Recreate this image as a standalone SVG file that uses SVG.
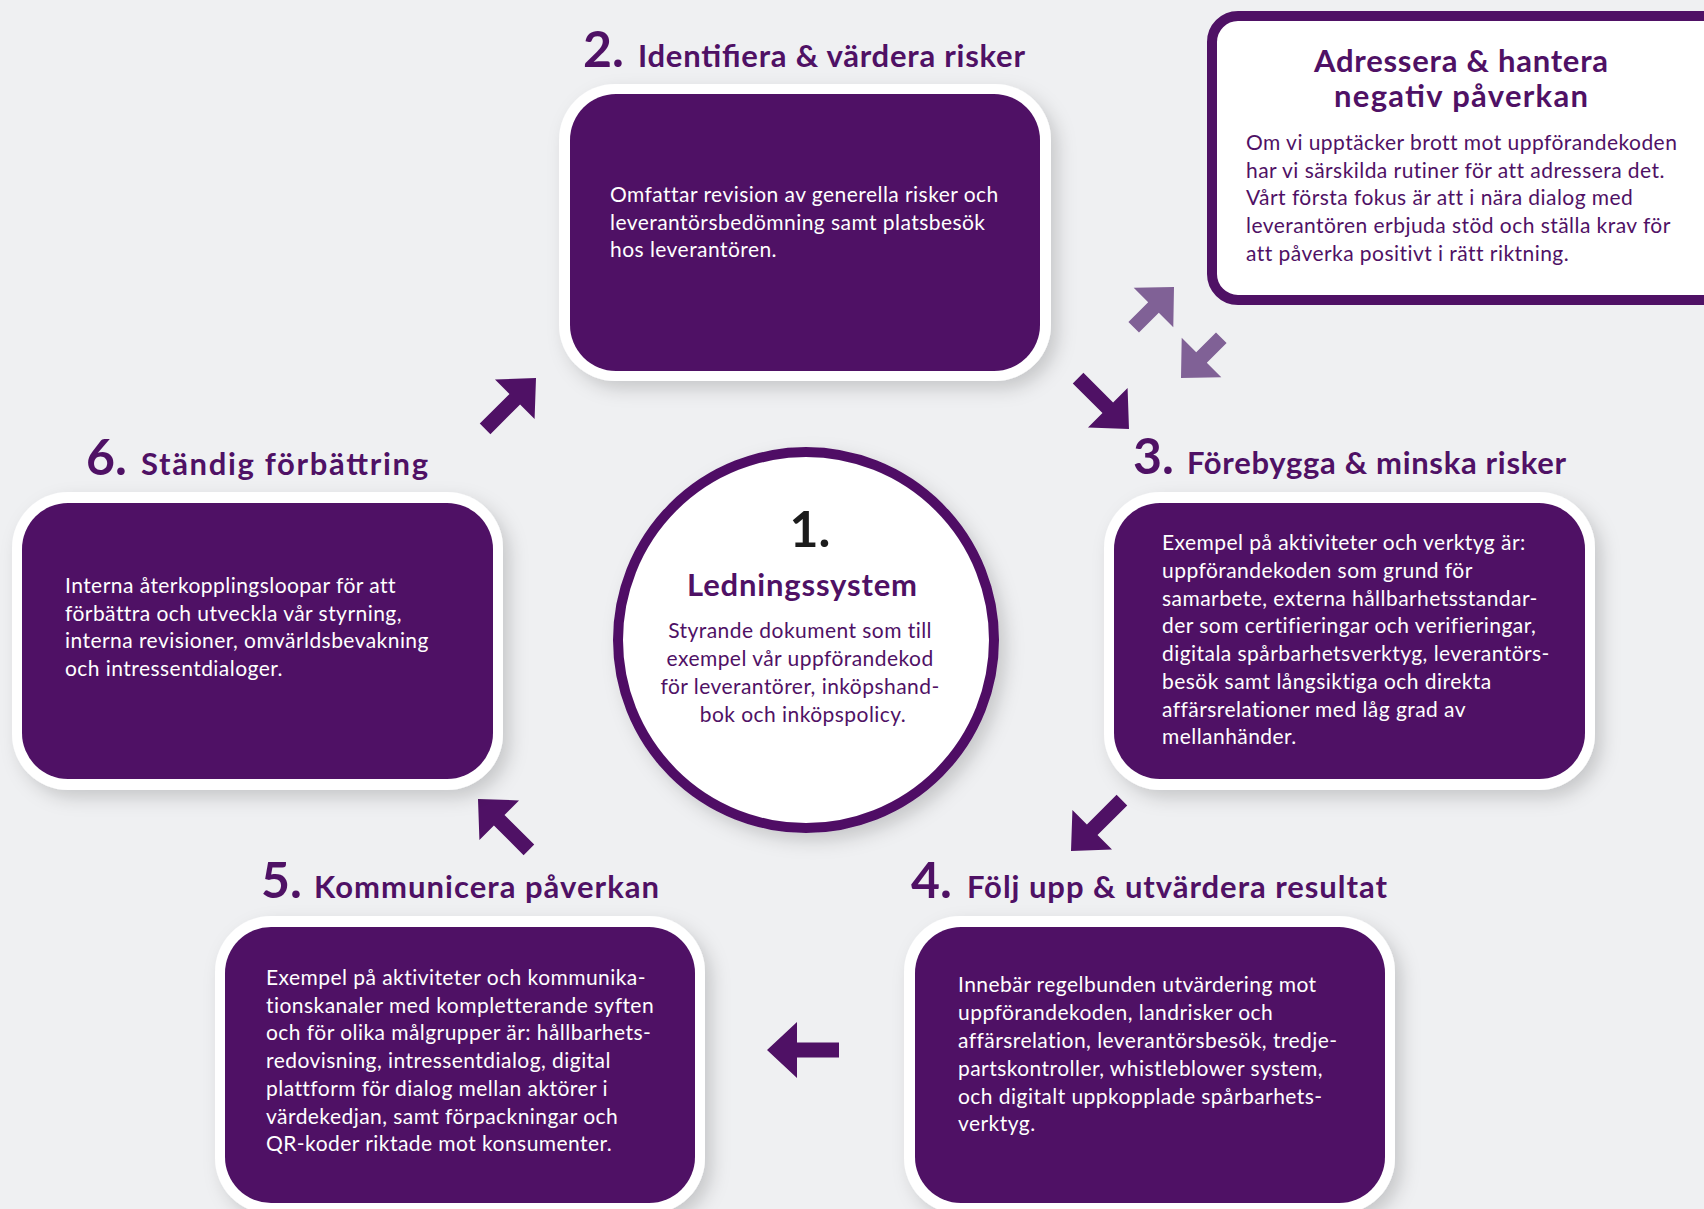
<svg xmlns="http://www.w3.org/2000/svg" width="1704" height="1209" viewBox="0 0 1704 1209">
<defs>
<filter id="sh" x="-10%" y="-10%" width="125%" height="130%">
<feDropShadow dx="7" dy="8" stdDeviation="9" flood-color="#000" flood-opacity="0.17"/>
</filter>
<polygon id="arw" points="0,0 -30,-28 -30,-7.5 -72,-7.5 -72,7.5 -30,7.5 -30,28"/>
<polygon id="arws" points="0,0 -29,-28 -29,-7.5 -57,-7.5 -57,7.5 -29,7.5 -29,28"/>
</defs>
<style>
.bg{fill:#eff0f2}
.outer{fill:#ffffff;filter:url(#sh)}
.inner{fill:#4f1165}
.body{font-family:Lato,"Open Sans","Liberation Sans",sans-serif;font-size:21px;letter-spacing:0.45px;fill:#ffffff}
.pbody{font-family:Lato,"Open Sans","Liberation Sans",sans-serif;font-size:21px;letter-spacing:0.45px;fill:#4f1165}
.num{font-family:Lato,"Open Sans","Liberation Sans",sans-serif;font-size:50px;font-weight:700;fill:#4f1165}
.ttl{font-family:Lato,"Open Sans","Liberation Sans",sans-serif;font-size:31px;font-weight:700;fill:#4f1165}
.arrow{fill:#4f1165}
.arrowl{fill:#806196}
</style>
<rect class="bg" x="0" y="0" width="1704" height="1209"/>

<g id="connectors">
<use href="#arw" class="arrow" transform="translate(536,378) rotate(-45)"/>
<use href="#arw" class="arrow" transform="translate(1129,429) rotate(45)"/>
<use href="#arw" class="arrow" transform="translate(1071,851) rotate(135)"/>
<use href="#arw" class="arrow" transform="translate(767,1050) rotate(180)"/>
<use href="#arw" class="arrow" transform="translate(478,799) rotate(-135)"/>
<use href="#arws" class="arrowl" transform="translate(1174,287) rotate(-45)"/>
<use href="#arws" class="arrowl" transform="translate(1181,378) rotate(135)"/>
</g>

<g id="node-1">
<circle cx="806" cy="640" r="188" fill="#ffffff" stroke="#4f1165" stroke-width="10" filter="url(#sh)"/>
<text x="810" y="547" text-anchor="middle" font-family="Lato,'Liberation Sans',sans-serif" font-size="50" font-weight="700" fill="#1c1c1c">1.</text>
<text x="802" y="596" text-anchor="middle" class="ttl" font-size="32" textLength="230">Ledningssystem</text>
<text class="pbody" text-anchor="middle">
<tspan x="803" y="638">Styrande dokument som till</tspan>
<tspan x="803" y="666">exempel vår uppförandekod</tspan>
<tspan x="803" y="694">för leverantörer, inköpshand-</tspan>
<tspan x="803" y="722">bok och inköpspolicy.</tspan>
</text>
</g>

<g id="node-2">
<text class="num" x="583" y="67">2.</text>
<text class="ttl" x="638" y="67" textLength="387">Identifiera &amp; värdera risker</text>
<rect class="outer" x="559" y="84" width="492" height="297" rx="56"/>
<rect class="inner" x="570" y="94" width="470" height="277" rx="46"/>
<text class="body">
<tspan x="610" y="202">Omfattar revision av generella risker och</tspan>
<tspan x="610" y="230">leverantörsbedömning samt platsbesök</tspan>
<tspan x="610" y="257">hos leverantören.</tspan>
</text>
</g>

<g id="node-adressera">
<rect x="1212" y="16" width="540" height="284" rx="26" fill="#ffffff" stroke="#4f1165" stroke-width="10"/>
<text class="ttl" x="1461" y="72" text-anchor="middle" font-size="28" textLength="294">Adressera &amp; hantera</text>
<text class="ttl" x="1461" y="107" text-anchor="middle" font-size="28" textLength="254">negativ påverkan</text>
<text class="pbody">
<tspan x="1246" y="150">Om vi upptäcker brott mot uppförandekoden</tspan>
<tspan x="1246" y="178">har vi särskilda rutiner för att adressera det.</tspan>
<tspan x="1246" y="205">Vårt första fokus är att i nära dialog med</tspan>
<tspan x="1246" y="233">leverantören erbjuda stöd och ställa krav för</tspan>
<tspan x="1246" y="261">att påverka positivt i rätt riktning.</tspan>
</text>
</g>

<g id="node-3">
<text class="num" x="1133" y="474">3.</text>
<text class="ttl" x="1187" y="474" textLength="379">Förebygga &amp; minska risker</text>
<rect class="outer" x="1104" y="492" width="491" height="298" rx="56"/>
<rect class="inner" x="1114" y="503" width="471" height="276" rx="46"/>
<text class="body">
<tspan x="1162" y="550">Exempel på aktiviteter och verktyg är:</tspan>
<tspan x="1162" y="578">uppförandekoden som grund för</tspan>
<tspan x="1162" y="606">samarbete, externa hållbarhetsstandar-</tspan>
<tspan x="1162" y="633">der som certifieringar och verifieringar,</tspan>
<tspan x="1162" y="661">digitala spårbarhetsverktyg, leverantörs-</tspan>
<tspan x="1162" y="689">besök samt långsiktiga och direkta</tspan>
<tspan x="1162" y="717">affärsrelationer med låg grad av</tspan>
<tspan x="1162" y="744">mellanhänder.</tspan>
</text>
</g>

<g id="node-4">
<text class="num" x="911" y="898">4.</text>
<text class="ttl" x="967" y="898" textLength="420">Följ upp &amp; utvärdera resultat</text>
<rect class="outer" x="904" y="916" width="491" height="298" rx="56"/>
<rect class="inner" x="915" y="927" width="470" height="276" rx="46"/>
<text class="body">
<tspan x="958" y="992">Innebär regelbunden utvärdering mot</tspan>
<tspan x="958" y="1020">uppförandekoden, landrisker och</tspan>
<tspan x="958" y="1048">affärsrelation, leverantörsbesök, tredje-</tspan>
<tspan x="958" y="1076">partskontroller, whistleblower system,</tspan>
<tspan x="958" y="1104">och digitalt uppkopplade spårbarhets-</tspan>
<tspan x="958" y="1131">verktyg.</tspan>
</text>
</g>

<g id="node-5">
<text class="num" x="261" y="898">5.</text>
<text class="ttl" x="314" y="898" textLength="345">Kommunicera påverkan</text>
<rect class="outer" x="215" y="916" width="490" height="298" rx="56"/>
<rect class="inner" x="225" y="927" width="470" height="276" rx="46"/>
<text class="body">
<tspan x="266" y="985">Exempel på aktiviteter och kommunika-</tspan>
<tspan x="266" y="1013">tionskanaler med kompletterande syften</tspan>
<tspan x="266" y="1040">och för olika målgrupper är: hållbarhets-</tspan>
<tspan x="266" y="1068">redovisning, intressentdialog, digital</tspan>
<tspan x="266" y="1096">plattform för dialog mellan aktörer i</tspan>
<tspan x="266" y="1124">värdekedjan, samt förpackningar och</tspan>
<tspan x="266" y="1151">QR-koder riktade mot konsumenter.</tspan>
</text>
</g>

<g id="node-6">
<text class="num" x="86" y="475">6.</text>
<text class="ttl" x="141" y="475" textLength="287">Ständig förbättring</text>
<rect class="outer" x="12" y="492" width="491" height="298" rx="56"/>
<rect class="inner" x="22" y="503" width="471" height="276" rx="46"/>
<text class="body">
<tspan x="65" y="593">Interna återkopplingsloopar för att</tspan>
<tspan x="65" y="621">förbättra och utveckla vår styrning,</tspan>
<tspan x="65" y="648">interna revisioner, omvärldsbevakning</tspan>
<tspan x="65" y="676">och intressentdialoger.</tspan>
</text>
</g>
</svg>
